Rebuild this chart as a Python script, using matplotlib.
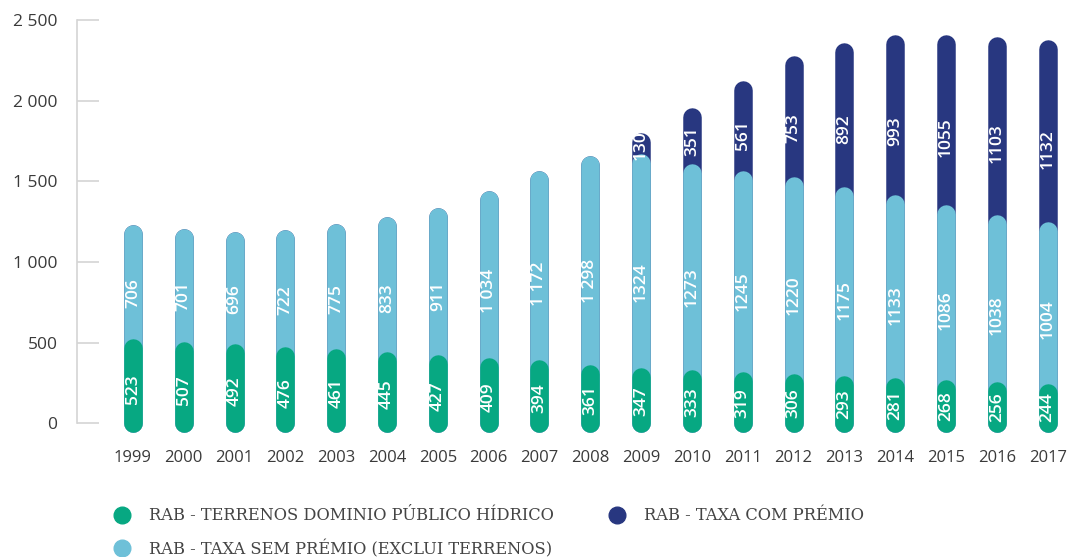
import matplotlib.pyplot as plt
from matplotlib.lines import Line2D
import numpy as np

# dados
years = [1999, 2000, 2001, 2002, 2003, 2004, 2005, 2006, 2007, 2008,
         2009, 2010, 2011, 2012, 2013, 2014, 2015, 2016, 2017]
terrenos = [523, 507, 492, 476, 461, 445, 427, 409, 394, 361,
            347, 333, 319, 306, 293, 281, 268, 256, 244]
sem_premio = [706, 701, 696, 722, 775, 833, 911, 1034, 1172, 1298,
              1324, 1273, 1245, 1220, 1175, 1133, 1086, 1038, 1004]
com_premio = [0, 0, 0, 0, 0, 0, 0, 0, 0, 0,
              130, 351, 561, 753, 892, 993, 1055, 1103, 1132]
spaced_years = [2006, 2007, 2008]  # rótulos com separador de milhar
y_ticks = [0, 500, 1000, 1500, 2000, 2500]

series_names = ['RAB - TERRENOS DOMINIO PÚBLICO HÍDRICO',
                'RAB - TAXA SEM PRÉMIO (EXCLUI TERRENOS)',
                'RAB - TAXA COM PRÉMIO']
colors = ['#07a882', '#6ec0d8', '#283780']

W, H = 1068, 557
fig = plt.figure(figsize=(W / 100, H / 100), dpi=100)
ax = fig.add_axes([77 / W, 1 - 423.3 / H, 1 - 77 / W, (423.3 - 20) / H])

x = np.arange(len(years))
ax.set_xlim(-1.10, 18.40)
ax.set_ylim(0, 2500)

bar_px = 18.5
lw = bar_px * 72 / 100
px_per_unit = (423.3 - 20) / 2500
r = (bar_px / 2) / px_per_unit  # raio do topo arredondado em unidades

t = np.array(terrenos)
s = np.array(sem_premio)
c = np.array(com_premio)
tops = [t + s + c, t + s, t]
layer_colors = [colors[2], colors[1], colors[0]]

for top, col in zip(tops, layer_colors):
    for xi, v in zip(x, top):
        ax.plot([xi, xi], [0, v - r], color=col, lw=lw,
                solid_capstyle='round', clip_on=False, zorder=2)


def fmt(v, spaced):
    if spaced and v >= 1000:
        return '{:,}'.format(v).replace(',', ' ')
    return str(v)


label_font = dict(color='white', fontsize=12.5, family='Open Sans',
                  fontweight='semibold', rotation=90,
                  ha='center', va='center', zorder=5)
for i, yr in enumerate(years):
    sp = yr in spaced_years
    bottoms = [0, t[i], t[i] + s[i]]
    vals = [t[i], s[i], c[i]]
    for b, v in zip(bottoms, vals):
        if v <= 0:
            continue
        ax.text(x[i], b + 0.4 * v, fmt(v, sp), **label_font)

# eixos
for side in ['top', 'right', 'bottom']:
    ax.spines[side].set_visible(False)
ax.spines['left'].set_color('#d4d4d4')
ax.spines['left'].set_linewidth(1.2)
ax.spines['left'].set_bounds(0, 2500)

ax.set_yticks(y_ticks)
ax.set_yticklabels(['{:,}'.format(v).replace(',', ' ') for v in y_ticks])
ax.tick_params(axis='y', direction='in', length=16, width=1.2,
               color='#d4d4d4', pad=14, labelsize=12.5, labelcolor='#3a3a3a')
ax.set_xticks(x)
ax.set_xticklabels([str(y) for y in years])
ax.tick_params(axis='x', length=0, pad=19, labelsize=12, labelcolor='#3a3a3a')
for lab in ax.get_xticklabels() + ax.get_yticklabels():
    lab.set_family('Open Sans')

# legenda
legend_pos = [(122, 515), (122, 548), (617, 515)]
for name, col, (lx, ly) in zip(series_names, colors, legend_pos):
    fig.add_artist(Line2D([lx / W], [1 - ly / H], marker='o', markersize=12,
                          color=col, linestyle='none',
                          transform=fig.transFigure))
    fig.text((lx + 27) / W, 1 - (ly + 1) / H, name, family='DejaVu Serif',
             fontsize=11.7, color='#444444', va='center', ha='left')

plt.savefig('out.png', dpi=100)
